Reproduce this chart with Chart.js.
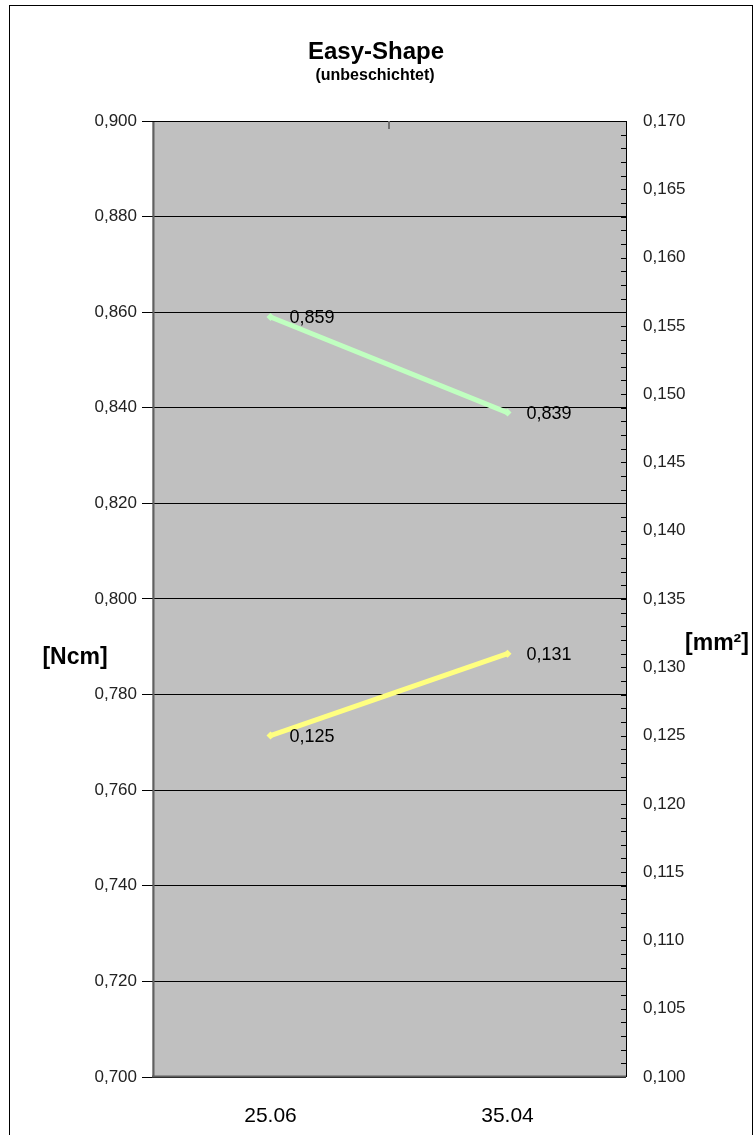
<!DOCTYPE html>
<html><head><meta charset="utf-8">
<script src="https://cdn.jsdelivr.net/npm/chart.js@4/dist/chart.umd.min.js"></script>
<style>html,body{margin:0;padding:0;background:#fff}#wrap{width:755px;height:1135px;position:relative}</style>
</head><body><div id="wrap"><canvas id="c" width="755" height="1135"></canvas></div>
<script>
// ---- data ----
const categories = ['25.06', '35.04'];
const torqueValues = [0.859, 0.839];   // [Ncm], left axis
const areaValues = [0.125, 0.131];     // [mm²], right axis
const torqueLabels = ['0,859', '0,839'];
const areaLabels = ['0,125', '0,131'];
const leftAxisRange = [0.700, 0.900];
const leftAxisStep = 0.020;
const rightAxisRange = [0.100, 0.170];
const rightAxisStep = 0.005;
const rightAxisMinorStep = 0.001;
const titleText = 'Easy-Shape';
const subtitleText = '(unbeschichtet)';
const leftAxisTitle = '[Ncm]';
const rightAxisTitle = '[mm²]';

const FONT = "'Liberation Sans', Arial, sans-serif";
const fmt = v => Number(v).toFixed(3).replace('.', ',');

const decor = {
  id: 'decor',
  beforeDraw(chart) {
    const {ctx, chartArea: a} = chart;
    ctx.save();
    ctx.fillStyle = '#fff';
    ctx.fillRect(0, 0, chart.width, chart.height);
    ctx.strokeStyle = '#000';
    ctx.lineWidth = 1;
    ctx.strokeRect(9.5, 5.5, 743, 1200);
    ctx.fillStyle = '#C0C0C0';
    ctx.fillRect(a.left, a.top, a.right - a.left, a.bottom - a.top);
    ctx.restore();
  },
  afterDraw(chart) {
    const {ctx, chartArea: a} = chart;
    ctx.save();
    // plot frame
    ctx.lineWidth = 2;
    ctx.strokeStyle = '#606060';
    ctx.beginPath();
    ctx.moveTo(a.left + 1.5, a.top); ctx.lineTo(a.left + 1.5, a.bottom);
    ctx.moveTo(a.left, a.bottom - 0.5); ctx.lineTo(a.right, a.bottom - 0.5);
    ctx.stroke();
    ctx.lineWidth = 1;
    ctx.strokeStyle = '#000';
    ctx.beginPath();
    ctx.moveTo(a.left, a.top + 0.5); ctx.lineTo(a.right, a.top + 0.5);
    ctx.moveTo(a.right + 0.5, a.top); ctx.lineTo(a.right + 0.5, a.bottom);
    ctx.stroke();
    // minor inward ticks on right axis
    const y2 = chart.scales.y2;
    ctx.beginPath();
    const n = Math.round((rightAxisRange[1] - rightAxisRange[0]) / rightAxisMinorStep);
    for (let i = 1; i < n; i++) {
      const py = Math.round(y2.getPixelForValue(rightAxisRange[0] + i * rightAxisMinorStep)) + 0.5;
      ctx.moveTo(a.right - 5, py); ctx.lineTo(a.right, py);
    }
    ctx.stroke();
    // top category separator tick
    const x = chart.scales.x;
    const mx = Math.round((x.getPixelForValue(0) + x.getPixelForValue(1)) / 2);
    ctx.strokeStyle = '#707070';
    ctx.lineWidth = 2;
    ctx.beginPath();
    ctx.moveTo(mx, a.top); ctx.lineTo(mx, a.top + 8);
    ctx.stroke();
    // titles
    ctx.fillStyle = '#000';
    ctx.textAlign = 'center';
    ctx.textBaseline = 'middle';
    ctx.font = 'bold 24px ' + FONT;
    ctx.fillText(titleText, 376, 52);
    ctx.font = 'bold 16px ' + FONT;
    ctx.fillText(subtitleText, 375, 76);
    ctx.font = 'bold 23px ' + FONT;
    ctx.fillText(leftAxisTitle, 75, 658);
    ctx.fillText(rightAxisTitle, 717, 644);
    ctx.restore();
  },
  afterDatasetsDraw(chart) {
    const {ctx} = chart;
    const labelSets = [torqueLabels, areaLabels];
    ctx.save();
    ctx.fillStyle = '#000';
    ctx.font = '18px ' + FONT;
    ctx.textAlign = 'left';
    ctx.textBaseline = 'middle';
    chart.data.datasets.forEach((ds, di) => {
      chart.getDatasetMeta(di).data.forEach((pt, i) => {
        ctx.fillText(labelSets[di][i], pt.x + 19, pt.y + 1);
      });
    });
    ctx.restore();
  }
};

new Chart(document.getElementById('c'), {
  type: 'line',
  data: {
    labels: categories,
    datasets: [
      {
        label: 'Ncm', data: torqueValues, yAxisID: 'y',
        borderColor: '#C0FFC0', backgroundColor: '#C0FFC0',
        borderWidth: 5, pointStyle: 'rectRot', pointRadius: 4,
        pointBorderWidth: 0, pointBackgroundColor: '#C0FFC0', tension: 0
      },
      {
        label: 'mm²', data: areaValues, yAxisID: 'y2',
        borderColor: '#FFFF80', backgroundColor: '#FFFF80',
        borderWidth: 5, pointStyle: 'rectRot', pointRadius: 4,
        pointBorderWidth: 0, pointBackgroundColor: '#FFFF80', tension: 0
      }
    ]
  },
  options: {
    responsive: false,
    animation: false,
    devicePixelRatio: 1,
    layout: {padding: {top: 121, left: 0, right: 0, bottom: 0}},
    plugins: {legend: {display: false}, title: {display: false}, tooltip: {enabled: false}},
    scales: {
      x: {
        type: 'category', offset: true, position: 'bottom',
        grid: {display: false, drawTicks: false},
        border: {display: false},
        ticks: {font: {family: FONT, size: 21}, color: '#000', padding: 27, maxRotation: 0},
        afterFit: s => { s.height = 58; }
      },
      y: {
        position: 'left', min: leftAxisRange[0], max: leftAxisRange[1],
        ticks: {stepSize: leftAxisStep, callback: v => fmt(v), font: {family: FONT, size: 17}, color: '#222', padding: 5},
        grid: {color: '#000', lineWidth: 1, tickLength: 10, tickColor: '#000', drawTicks: true},
        border: {display: false},
        afterFit: s => { s.width = 152; }
      },
      y2: {
        position: 'right', min: rightAxisRange[0], max: rightAxisRange[1],
        ticks: {stepSize: rightAxisStep, maxTicksLimit: 20, autoSkip: false, callback: v => fmt(v), font: {family: FONT, size: 17}, color: '#222', padding: 17},
        grid: {drawOnChartArea: false, drawTicks: false},
        border: {display: false},
        afterFit: s => { s.width = 129; }
      }
    }
  },
  plugins: [decor]
});
</script>
</body></html>
